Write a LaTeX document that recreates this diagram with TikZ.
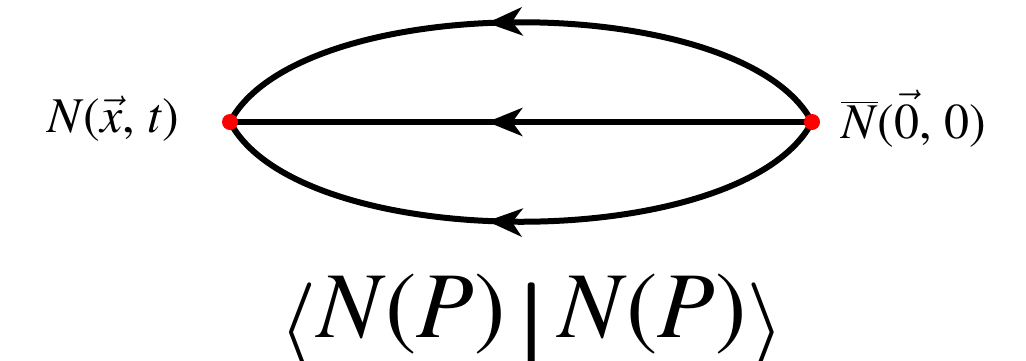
\documentclass[tikz,border=0pt]{standalone}
\usepackage{fontspec}
\setmainfont{texgyretermes}[Extension=.otf, UprightFont=*-regular, ItalicFont=*-italic, BoldFont=*-bold, BoldItalicFont=*-bolditalic]
\usetikzlibrary{arrows.meta,decorations.markings}
\newcommand{\bigvec}[1]{\scalebox{2}{$\vec{\mbox{\fontsize{25}{30}\selectfont#1}}$}}
\newcommand{\bigbar}[1]{\scalebox{2}{$\overline{\mbox{\fontsize{25}{30}\selectfont#1}}$}}
\tikzset{
  prop/.style={line width=6pt, postaction={decorate},
    decoration={markings, mark=at position #1 with {\arrow{Stealth[length=35pt,width=28pt,inset=10pt]}}}},
  vtx/.style={circle, fill=red, inner sep=0pt, minimum size=16pt},
  lab/.style={inner sep=0pt, font=\fontsize{50}{60}\selectfont},
  biglab/.style={inner sep=0pt, font=\fontsize{94}{110}\selectfont}
}
\begin{document}
\begin{tikzpicture}[x=1pt,y=-1pt]
\useasboundingbox (0,0) rectangle (1026,360);
\coordinate (L) at (230,122);
\coordinate (R) at (812,122);
\draw[prop=0.553] (R) .. controls (742,-11) and (300,-11) .. (L);
\draw[prop=0.558] (R) -- (L);
\draw[prop=0.553] (R) .. controls (742,255) and (300,255) .. (L);
\node[vtx] (vL) at (L) {};
\node[vtx] (vR) at (R) {};
\node[lab, anchor=base east] (tL) at (179,132) {\textit{N}(\bigvec{\textit{x}}, \textit{t})};
\node[lab, anchor=base west] (tR) at (841,138) {\bigbar{\textit{N}}(\bigvec{0}, 0)};
\node[biglab, anchor=base] (tB) at (532,337) {\raisebox{-0.22em}{\scalebox{4}{$\langle$}}\textit{N}(\textit{P})\hspace{0.13em}\makebox[0.3em]{\raisebox{-0.22em}{\scalebox{7}[4]{$|$}}}\hspace{0.13em}\textit{N}(\textit{P})\raisebox{-0.22em}{\scalebox{4}{$\rangle$}}};
\end{tikzpicture}
\end{document}
